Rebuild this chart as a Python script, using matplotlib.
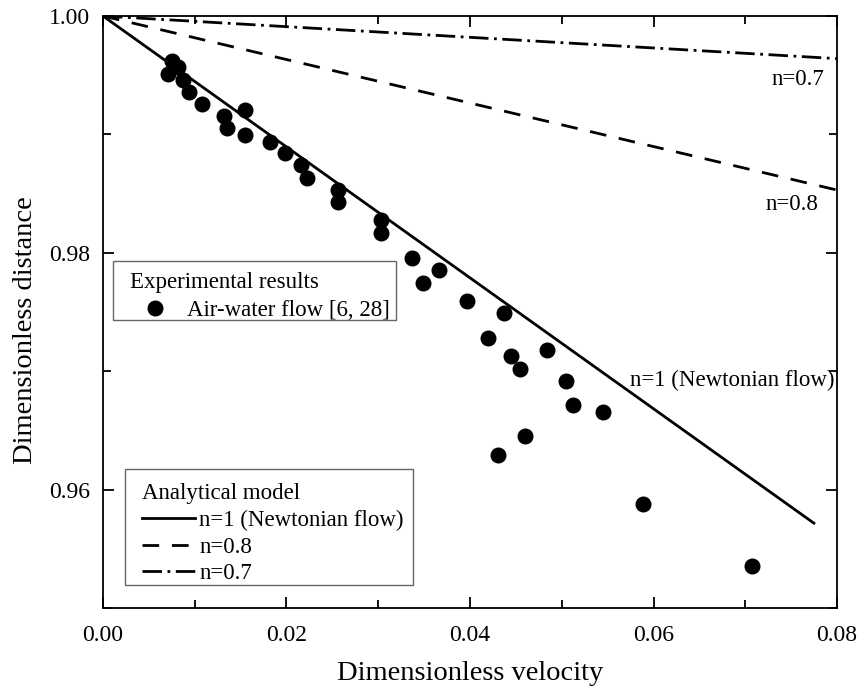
import matplotlib
matplotlib.use('Agg')
import matplotlib.pyplot as plt
from matplotlib.lines import Line2D
from matplotlib.patches import Rectangle
from matplotlib.ticker import MultipleLocator

plt.rcParams['font.family'] = ['Liberation Serif', 'DejaVu Serif']
plt.rcParams['mathtext.fontset'] = 'stix'

# experimental points (air-water flow)
velocity = [0.00749, 0.00821, 0.00705, 0.00875, 0.00941, 0.01076, 0.01319, 0.01348,
            0.01548, 0.01548, 0.01820, 0.01984, 0.02158, 0.02220, 0.02558, 0.02558,
            0.03030, 0.03030, 0.03365, 0.03665, 0.03491, 0.03964, 0.04374, 0.04199,
            0.04447, 0.04550, 0.04843, 0.05046, 0.05119, 0.05453, 0.04600, 0.04309,
            0.05889, 0.07070]
distance = [0.99620, 0.99572, 0.99511, 0.99460, 0.99361, 0.99255, 0.99156, 0.99052,
            0.99207, 0.98996, 0.98939, 0.98841, 0.98743, 0.98630, 0.98532, 0.98428,
            0.98273, 0.98166, 0.97955, 0.97857, 0.97749, 0.97595, 0.97491, 0.97280,
            0.97125, 0.97021, 0.97175, 0.96920, 0.96711, 0.96656, 0.96453, 0.96295,
            0.95879, 0.95359]

# analytical model lines
n1_x = [0.0, 0.0776]
n1_y = [1.0, 0.9571]
n08_x = [0.0, 0.08]
n08_y = [1.0, 0.9853]
n07_x = [0.0, 0.08]
n07_y = [1.0, 0.9964]

fig = plt.figure(figsize=(8.59, 6.90), dpi=100)
ax = fig.add_axes([0.1199, 0.1188, 0.8545, 0.858])

lw = 2.0
dash = (6, 4.6)
dashdot = (7, 2, 1, 2)
ax.plot(n1_x, n1_y, color='black', lw=lw, solid_capstyle='butt')
ax.plot(n08_x, n08_y, color='black', lw=lw, dashes=dash)
ax.plot(n07_x, n07_y, color='black', lw=lw, dashes=dashdot)
ax.plot(velocity, distance, 'o', color='black', ms=10.5, zorder=3)

fs = 16.5
ax.text(0.0757, 0.9946, 'n=0.7', fontsize=fs, ha='center', va='center')
ax.text(0.0751, 0.98405, 'n=0.8', fontsize=fs, ha='center', va='center')
ax.text(0.0797, 0.9692, 'n=1 (Newtonian flow)', fontsize=fs, ha='right', va='center')

ax.set_xlim(0, 0.08)
ax.set_ylim(0.95, 1.0)
ax.xaxis.set_major_locator(MultipleLocator(0.02))
ax.xaxis.set_minor_locator(MultipleLocator(0.01))
ax.yaxis.set_minor_locator(MultipleLocator(0.01))
ax.set_yticks([0.96, 0.98, 1.00])
ax.xaxis.set_major_formatter(plt.FormatStrFormatter('%.2f'))
ax.yaxis.set_major_formatter(plt.FormatStrFormatter('%.2f'))
ax.tick_params(which='both', direction='in', top=True, right=True, labelsize=17, width=1.3)
ax.tick_params(axis='x', pad=12)
ax.tick_params(axis='y', pad=9)
ax.tick_params(which='major', length=8)
ax.tick_params(which='minor', length=6)
for s in ax.spines.values():
    s.set_linewidth(1.3)

ax.set_xlabel('Dimensionless velocity', fontsize=20.5, labelpad=11)
ax.set_ylabel('Dimensionless distance', fontsize=20.5)
ax.yaxis.set_label_coords(-0.0886, 0.4696)

# legend frames drawn by hand
for (x0, y0, w, h) in [(0.0136, 0.4865, 0.3856, 0.0997), (0.030, 0.0389, 0.3924, 0.196)]:
    ax.add_patch(Rectangle((x0, y0), w, h, transform=ax.transAxes, facecolor='white',
                           edgecolor='#666666', lw=1.0, zorder=4))

h1 = [Line2D([], [], marker='o', ls='none', color='black', ms=10.5)]
leg1 = ax.legend(h1, ['Air-water flow [6, 28]'], title='Experimental results',
                 loc='upper left', bbox_to_anchor=(0.0368, 0.567), fontsize=fs,
                 title_fontsize=fs, frameon=False, alignment='left',
                 handlelength=2.2, handletextpad=0.3, borderpad=0,
                 labelspacing=0.3, borderaxespad=0)
leg1.set_zorder(5)
ax.add_artist(leg1)

h2 = [Line2D([], [], color='black', lw=lw),
      Line2D([], [], color='black', lw=lw, dashes=dash),
      Line2D([], [], color='black', lw=lw, dashes=dashdot)]
leg2 = ax.legend(h2, ['n=1 (Newtonian flow)', 'n=0.8', 'n=0.7'], title='Analytical model',
                 loc='upper left', bbox_to_anchor=(0.0531, 0.2112), fontsize=fs,
                 title_fontsize=fs, frameon=False, alignment='left',
                 handlelength=2.3, handletextpad=0.2, borderpad=0,
                 labelspacing=0.25, borderaxespad=0)
leg2.set_zorder(5)

fig.savefig('out.png', dpi=100)
